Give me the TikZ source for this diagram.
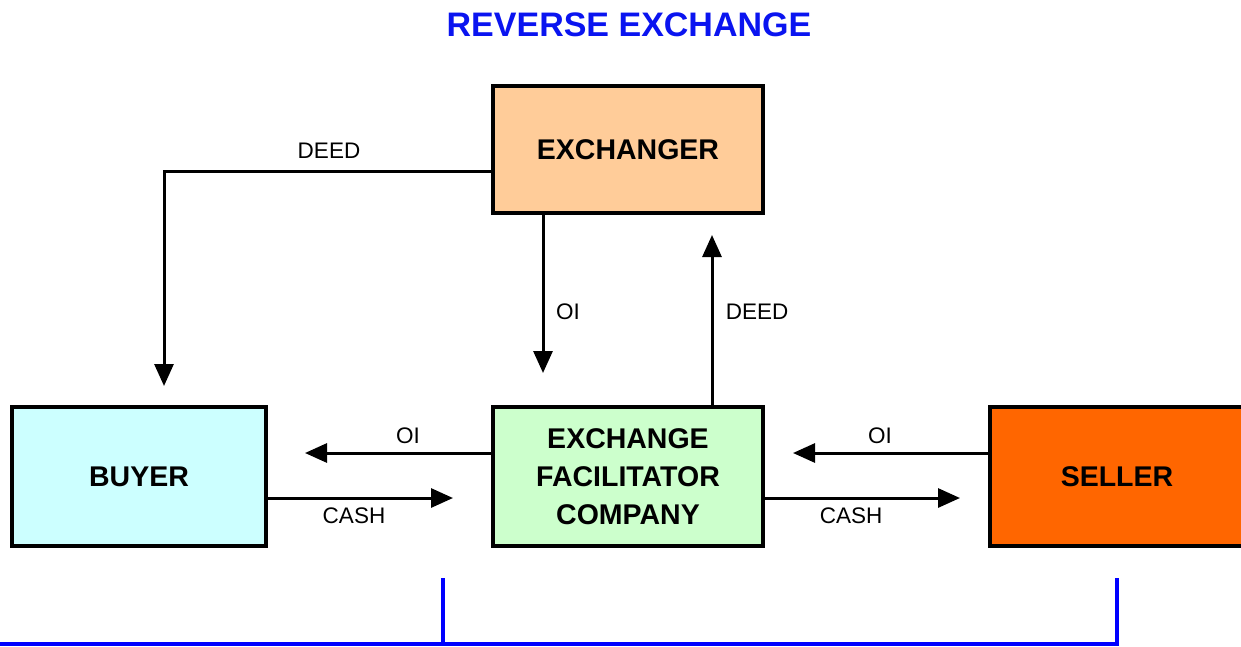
\documentclass[tikz,border=0pt]{standalone}
\usepackage{fontspec}
\setmainfont{Liberation Sans}
\usetikzlibrary{arrows.meta}
\definecolor{exfill}{HTML}{FFCC99}
\definecolor{buyfill}{HTML}{CCFFFF}
\definecolor{efcfill}{HTML}{CCFFCC}
\definecolor{sellfill}{HTML}{FF6600}
\definecolor{titleblue}{HTML}{0A14F0}
\begin{document}
\begin{tikzpicture}[x=1pt,y=-1pt,
  box/.style={draw, line width=3.4pt, inner sep=0pt, align=center,
    font=\bfseries\fontsize{28.5}{38}\selectfont},
  lbl/.style={font=\fontsize{22.5}{26}\selectfont, inner sep=0pt},
  arr/.style={line width=3pt, -{Triangle[length=22pt,width=19pt]}},
  bracket/.style={draw=blue, line width=4.5pt}
]
\useasboundingbox (0,0) rectangle (1241,646);
\clip (0,0) rectangle (1241,646);

\node[font=\bfseries\fontsize{34}{40}\selectfont, text=titleblue] (title) at (629,25) {REVERSE EXCHANGE};

\node[box, fill=exfill, minimum width=270pt, minimum height=127pt] (ex) at (628,149.5) {EXCHANGER};
\node[box, fill=buyfill, minimum width=254pt, minimum height=139pt] (buy) at (139,476.5) {BUYER};
\node[box, fill=efcfill, minimum width=270pt, minimum height=139pt] (efc) at (628,476.5) {EXCHANGE\\FACILITATOR\\COMPANY};
\node[box, fill=sellfill, minimum width=254pt, minimum height=139pt] (sell) at (1117,476.5) {SELLER};

\coordinate (deedcorner) at (164,171);
\coordinate (deedend) at (164,386);
\coordinate (oidown) at (543,373);
\coordinate (deedup) at (712,235);
\coordinate (oibuy) at (305,453);
\coordinate (cashefc) at (453,498);
\coordinate (oiefc) at (793,453);
\coordinate (cashsell) at (960,498);

\draw[arr] (ex.west |- deedcorner) -- (deedcorner) -- (deedend);
\draw[arr] (ex.south -| oidown) -- (oidown);
\draw[arr] (efc.north -| deedup) -- (deedup);
\draw[arr] (efc.west |- oibuy) -- (oibuy);
\draw[arr] (buy.east |- cashefc) -- (cashefc);
\draw[arr] (sell.west |- oiefc) -- (oiefc);
\draw[arr] (efc.east |- cashsell) -- (cashsell);

\node[lbl] (l1) at (329,151) {DEED};
\node[lbl] (l2) at (568,312) {OI};
\node[lbl] (l3) at (757,312) {DEED};
\node[lbl] (l4) at (408,436) {OI};
\node[lbl] (l5) at (354,516) {CASH};
\node[lbl] (l6) at (880,436) {OI};
\node[lbl] (l7) at (851,516) {CASH};

\coordinate (b1) at (443,578);
\coordinate (b2) at (1117,578);
\draw[bracket] (b1) -- (b1 |- 0,644);
\draw[bracket] (0,644) -- (b2 |- 0,644) -- (b2);
\end{tikzpicture}
\end{document}
